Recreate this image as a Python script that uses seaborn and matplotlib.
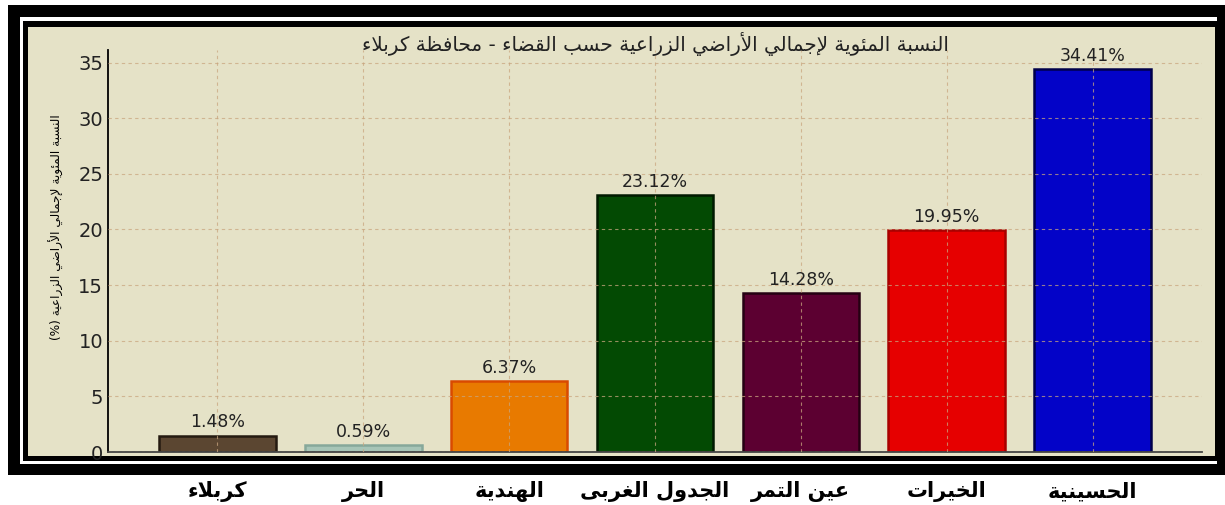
import matplotlib
matplotlib.use("Agg")
import matplotlib.pyplot as plt
import seaborn as sns
import pandas as pd
from matplotlib.patches import Rectangle

# ---------------- data ----------------
categories = ['كربلاء', 'الحر', 'الهندية', 'الجدول الغربى', 'عين التمر', 'الخيرات', 'الحسينية']
values = [1.48, 0.59, 6.37, 23.12, 14.28, 19.95, 34.41]
bar_colors = ['#5b4631', '#a7c5b7', '#e87a00', '#034a03', '#5c0031', '#e60000', '#0303c8']
edge_colors = ['#241a10', '#86a89a', '#d94a00', '#001a00', '#250012', '#a80000', '#00004a']
title_text = 'النسبة المئوية لإجمالي الأراضي الزراعية حسب القضاء - محافظة كربلاء'
ylabel_text = 'النسبة المئوية لإجمالي الأراضي الزراعية (%)'
yticks = [0, 5, 10, 15, 20, 25, 30, 35]

# ------------- minimal Arabic shaping (matplotlib has no complex text layout) -------------
_F = {
    'ء': (0xFE80,), 'آ': (0xFE81, 0xFE82), 'أ': (0xFE83, 0xFE84), 'ؤ': (0xFE85, 0xFE86),
    'إ': (0xFE87, 0xFE88), 'ئ': (0xFE89, 0xFE8A, 0xFE8B, 0xFE8C), 'ا': (0xFE8D, 0xFE8E),
    'ب': (0xFE8F, 0xFE90, 0xFE91, 0xFE92), 'ة': (0xFE93, 0xFE94),
    'ت': (0xFE95, 0xFE96, 0xFE97, 0xFE98), 'ث': (0xFE99, 0xFE9A, 0xFE9B, 0xFE9C),
    'ج': (0xFE9D, 0xFE9E, 0xFE9F, 0xFEA0), 'ح': (0xFEA1, 0xFEA2, 0xFEA3, 0xFEA4),
    'خ': (0xFEA5, 0xFEA6, 0xFEA7, 0xFEA8), 'د': (0xFEA9, 0xFEAA), 'ذ': (0xFEAB, 0xFEAC),
    'ر': (0xFEAD, 0xFEAE), 'ز': (0xFEAF, 0xFEB0), 'س': (0xFEB1, 0xFEB2, 0xFEB3, 0xFEB4),
    'ش': (0xFEB5, 0xFEB6, 0xFEB7, 0xFEB8), 'ص': (0xFEB9, 0xFEBA, 0xFEBB, 0xFEBC),
    'ض': (0xFEBD, 0xFEBE, 0xFEBF, 0xFEC0), 'ط': (0xFEC1, 0xFEC2, 0xFEC3, 0xFEC4),
    'ظ': (0xFEC5, 0xFEC6, 0xFEC7, 0xFEC8), 'ع': (0xFEC9, 0xFECA, 0xFECB, 0xFECC),
    'غ': (0xFECD, 0xFECE, 0xFECF, 0xFED0), 'ف': (0xFED1, 0xFED2, 0xFED3, 0xFED4),
    'ق': (0xFED5, 0xFED6, 0xFED7, 0xFED8), 'ك': (0xFED9, 0xFEDA, 0xFEDB, 0xFEDC),
    'ل': (0xFEDD, 0xFEDE, 0xFEDF, 0xFEE0), 'م': (0xFEE1, 0xFEE2, 0xFEE3, 0xFEE4),
    'ن': (0xFEE5, 0xFEE6, 0xFEE7, 0xFEE8), 'ه': (0xFEE9, 0xFEEA, 0xFEEB, 0xFEEC),
    'و': (0xFEED, 0xFEEE), 'ى': (0xFEEF, 0xFEF0), 'ي': (0xFEF1, 0xFEF2, 0xFEF3, 0xFEF4),
    'لآ': (0xFEF5, 0xFEF6), 'لأ': (0xFEF7, 0xFEF8), 'لإ': (0xFEF9, 0xFEFA), 'لا': (0xFEFB, 0xFEFC),
}
_MIRROR = {'(': ')', ')': '(', '[': ']', ']': '['}


def shape_ar(s):
    toks, i = [], 0
    while i < len(s):
        if s[i] == 'ل' and i + 1 < len(s) and s[i:i + 2] in _F:
            toks.append(s[i:i + 2]); i += 2
        else:
            toks.append(s[i]); i += 1
    out = []
    for k, t in enumerate(toks):
        f = _F.get(t)
        if f is None:
            out.append(t); continue
        prev = k > 0 and len(_F.get(toks[k - 1], ())) == 4 and len(f) >= 2
        nxt = len(f) == 4 and k + 1 < len(toks) and len(_F.get(toks[k + 1], ())) >= 2
        if prev and nxt:
            c = f[3]
        elif prev:
            c = f[1]
        elif nxt:
            c = f[2]
        else:
            c = f[0]
        out.append(chr(c))
    vis = ''.join(out)[::-1]
    return ''.join(_MIRROR.get(ch, ch) for ch in vis)


# ---------------- style ----------------
sns.set_style("white")
plt.rcParams['font.family'] = ['DejaVu Sans']

W, H = 1225, 505
fig = plt.figure(figsize=(W / 100, H / 100), dpi=100, facecolor='white')


def frect(x0, y0, x1, y1, color, z):
    fig.patches.append(Rectangle((x0 / W, 1 - y1 / H), (x1 - x0) / W, (y1 - y0) / H,
                                 transform=fig.transFigure, facecolor=color,
                                 edgecolor='none', zorder=z))


beige = '#e5e2c7'
frect(8, 5, 1240, 475, 'black', 0)
frect(20, 17, 1217, 464, 'white', 1)
frect(23, 21, 1240, 461, 'black', 2)
frect(28, 27, 1215, 456, beige, 3)

ax = fig.add_axes([108 / W, 1 - 452 / H, (1202 - 108) / W, (452 - 50) / H])
ax.set_facecolor('none')
ax.set_zorder(5)

df = pd.DataFrame({'cat': categories, 'val': values})
palette = dict(zip(categories, bar_colors))
sns.barplot(data=df, x='cat', y='val', hue='cat', order=categories, hue_order=categories,
            palette=palette, legend=False, ax=ax, width=0.8, saturation=1)
for p, ec in zip(ax.patches, edge_colors):
    p.set_edgecolor(ec)
    p.set_linewidth(1.8)

for cont in ax.containers:
    ax.bar_label(cont, fmt='%.2f%%', padding=3, fontsize=12.5, color='#222222')

ax.set_xlim(-0.75, len(categories) - 0.25)
ax.set_ylim(0, max(values) * 1.05)
ax.set_yticks(yticks)
ax.set_xticks(range(len(categories)))
ax.set_xticklabels([shape_ar(c) for c in categories], fontsize=15, fontweight='bold', color='black')
ax.tick_params(axis='x', direction='in', length=4, pad=21, color='black')
ax.tick_params(axis='y', direction='in', length=4, labelsize=14, color='black', labelcolor='#222222')

ax.grid(True, linestyle=(0, (3, 3)), color='#c9a67f', alpha=0.75, linewidth=0.8)
ax.set_axisbelow(False)

for s in ['top', 'right']:
    ax.spines[s].set_visible(False)
ax.spines['left'].set_color('black')
ax.spines['bottom'].set_color('#444444')
ax.spines['left'].set_linewidth(1.3)
ax.spines['bottom'].set_linewidth(1.3)

ax.set_xlabel('')
ax.set_ylabel(shape_ar(ylabel_text), fontsize=8.7, color='black')
ax.yaxis.set_label_coords(-0.040, 0.56)
ax.set_title(shape_ar(title_text), fontsize=14.3, color='#222222', pad=-1)

fig.savefig('out.png', dpi=100, facecolor='white')
